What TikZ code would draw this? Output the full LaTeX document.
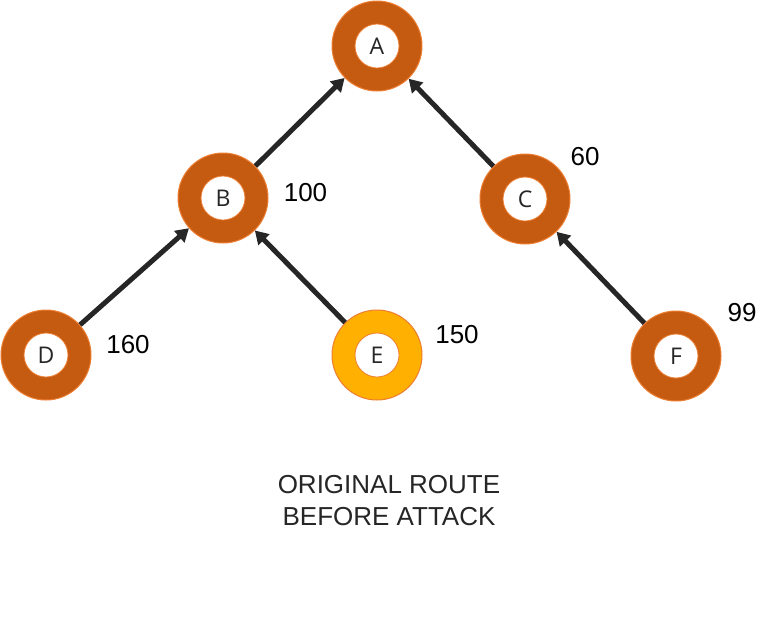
\documentclass[tikz,border=0pt]{standalone}
\usepackage{fontspec}
\setmainfont{Liberation Sans}
\newfontfamily\letterfont{Open Sans}
\usetikzlibrary{arrows.meta}
\definecolor{ringc}{HTML}{C55A11}
\definecolor{ringe}{HTML}{FFB000}
\definecolor{edgec}{HTML}{ED7D31}
\definecolor{ink}{HTML}{262626}
\begin{document}
\begin{tikzpicture}[x=1pt,y=-1pt,
  ring/.style={circle, minimum size=90pt, inner sep=0pt, fill=ringc, draw=edgec, line width=1pt,
    font=\letterfont\fontsize{23}{23}\selectfont, text=ink,
    path picture={\draw[fill=white,draw=edgec,line width=0.8pt] (path picture bounding box.center) circle (22pt);}},
  ringy/.style={ring, fill=ringe},
  link/.style={draw=ink, line width=5pt, -{Triangle[length=13pt,width=15pt]}},
  num/.style={font=\fontsize{26}{26}\selectfont, text=black, inner sep=0pt},
  caption/.style={font=\fontsize{26}{32}\selectfont, text=ink, align=center, inner sep=0pt}]
\useasboundingbox[fill=white] (0,0) rectangle (775,622);
\node[ring]  (A) at (377,46)  {\raisebox{-4pt}{A}};
\node[ring]  (B) at (223,198) {\raisebox{-4pt}{B}};
\node[ring]  (C) at (525,199) {\raisebox{-4pt}{C}};
\node[ring]  (D) at (46,355)  {\raisebox{-4pt}{D}};
\node[ringy] (E) at (377,355) {\raisebox{-4pt}{E}};
\node[ring]  (F) at (676,356) {\raisebox{-4pt}{F}};
\draw[link] (B) -- (A);
\draw[link] (C) -- (A);
\draw[link] (D) -- (B);
\draw[link] (E) -- (B);
\draw[link] (F) -- (C);
\node[num] (nB) at (305.5,193) {100};
\node[num] (nC) at (585,157) {60};
\node[num] (nD) at (128,344.5) {160};
\node[num] (nE) at (457,335) {150};
\node[num] (nF) at (742,313) {99};
\node[caption, anchor=north] (cap) at (389,475) {ORIGINAL ROUTE\\BEFORE ATTACK};
\end{tikzpicture}
\end{document}
